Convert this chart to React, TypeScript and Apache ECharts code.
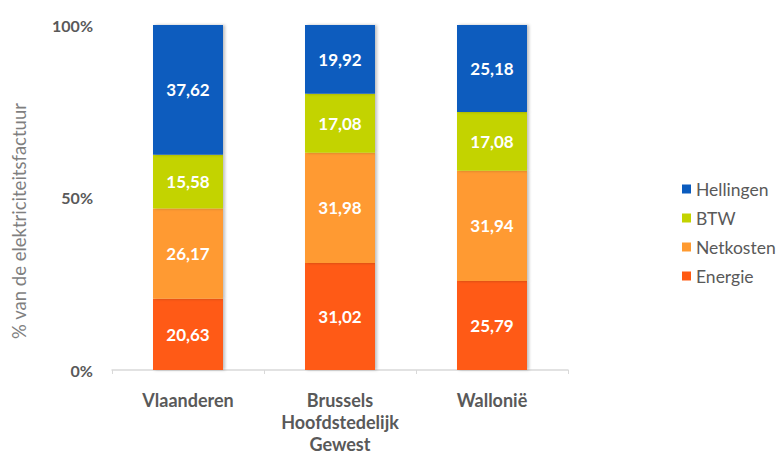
import React, { useEffect, useRef } from "react";
import * as echarts from "echarts";

const categories = ["Vlaanderen", "Brussels\nHoofdstedelijk\nGewest", "Wallonië"];
const energie = [20.63, 31.02, 25.79];
const netkosten = [26.17, 31.98, 31.94];
const btw = [15.58, 17.08, 17.08];
const hellingen = [37.62, 19.92, 25.18];
const legendOrder = ["Hellingen", "BTW", "Netkosten", "Energie"];
const yTicks = [0, 50, 100];

const FONT = "Lato, 'Open Sans', sans-serif";

export default function App() {
  const ref = useRef<HTMLDivElement>(null);
  useEffect(() => {
    if (!ref.current) return;
    const chart = echarts.init(ref.current, undefined, { renderer: "svg" });
    const label = {
      show: true,
      color: "#ffffff",
      fontWeight: "bold" as const,
      fontSize: 17,
      fontFamily: FONT,
      formatter: (p: any) => Number(p.value).toFixed(2).replace(".", ","),
    };
    const mk = (name: string, data: number[], color: string) => ({
      name,
      type: "bar",
      stack: "total",
      data,
      barWidth: 70,
      itemStyle: {
        color,
        shadowColor: "rgba(0,0,0,0.25)",
        shadowBlur: 3,
        shadowOffsetX: 2,
        shadowOffsetY: 0,
      },
      label,
    });
    chart.setOption({
      animation: false,
      backgroundColor: "#ffffff",
      grid: { left: 112, right: 211, top: 25, bottom: 80 },
      legend: {
        orient: "vertical",
        left: 677,
        top: 175,
        itemWidth: 9,
        itemHeight: 9,
        itemGap: 11,
        icon: "rect",
        data: legendOrder,
        textStyle: { color: "#595959", fontSize: 17.5, fontFamily: FONT },
      },
      xAxis: {
        type: "category",
        data: categories,
        axisLine: { lineStyle: { color: "#d9d9d9", width: 1.5 } },
        axisTick: { show: true, length: 4, lineStyle: { color: "#d9d9d9" } },
        axisLabel: {
          color: "#595959",
          fontSize: 18,
          fontWeight: "bold",
          fontFamily: FONT,
          lineHeight: 22,
          margin: 19,
          interval: 0,
        },
      },
      yAxis: {
        type: "value",
        min: 0,
        max: 100,
        interval: 50,
        axisLine: { show: false },
        axisTick: { show: false },
        splitLine: { show: false },
        axisLabel: {
          color: "#595959",
          fontSize: 16,
          fontWeight: "bold",
          fontFamily: FONT,
          margin: 19,
          formatter: (v: number) => (yTicks.includes(v) ? v + "%" : ""),
        },
      },
      graphic: [
        {
          type: "text",
          x: 19,
          y: 221,
          rotation: Math.PI / 2,
          style: {
            text: "% van de elektriciteitsfactuur",
            fill: "#7f7f7f",
            fontSize: 18.5,
            fontFamily: FONT,
            align: "center",
            verticalAlign: "middle",
          },
        },
      ],
      series: [
        mk("Energie", energie, "#FF5A12"),
        mk("Netkosten", netkosten, "#FF9A30"),
        mk("BTW", btw, "#C3D300"),
        mk("Hellingen", hellingen, "#0A5BBE"),
      ],
    });
    return () => chart.dispose();
  }, []);
  return (
    <div
      ref={ref}
      style={{ position: "fixed", left: 0, top: 0, width: 779, height: 455 }}
    />
  );
}
